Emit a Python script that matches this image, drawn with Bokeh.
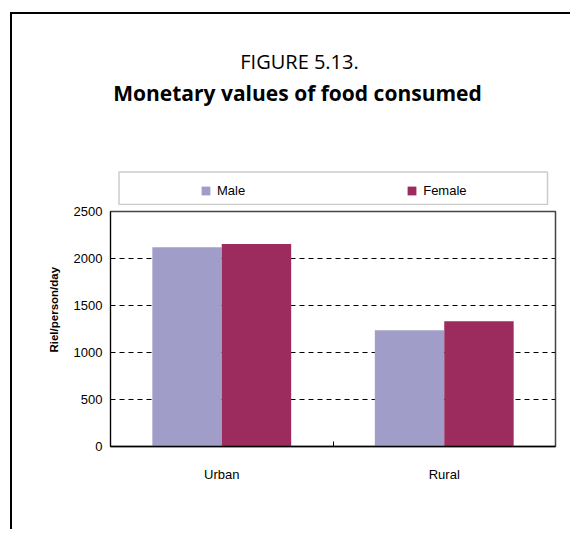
import math
from bokeh.plotting import figure
from bokeh.layouts import column, row
from bokeh.models import (Range1d, FixedTicker, Legend, LegendItem, Label,
                          BoxAnnotation, ColumnDataSource, InlineStyleSheet)
from bokeh.embed import file_html
from bokeh.resources import INLINE

# ---- data ----
categories = ["Urban", "Rural"]
series_names = ["Male", "Female"]
male = [2120, 1238]
female = [2153, 1333]
y_ticks = [0, 500, 1000, 1500, 2000, 2500]
title_line1 = "FIGURE 5.13."
title_line2 = "Monetary values of food consumed"
y_label = "Riel/person/day"

MALE_COLOR = "#A09EC9"
FEMALE_COLOR = "#9B2C5D"
FONT = "Liberation Sans"
TITLE_FONT = "Open Sans"

W, H = 570, 529
HEAD_H = 205
SIDE_W = 70
BODY_H = H - HEAD_H


def frame_css(left, top, draw_top):
    css = (":host { position: relative; }"
           ":host::after { content: ''; position: absolute; left: %dpx; top: %dpx;"
           " right: 0; bottom: 0; border-left: 2px solid #000;%s"
           " pointer-events: none; z-index: 10; }"
           % (left, top, " border-top: 2px solid #000;" if draw_top else ""))
    return [InlineStyleSheet(css=css)]


def blank(width, height, y_range):
    f = figure(width=width, height=height, x_range=Range1d(0, width),
               y_range=y_range, x_axis_type=None, y_axis_type=None,
               output_backend="svg", toolbar_location=None,
               min_border=0, min_border_left=0, min_border_right=0,
               min_border_top=0, min_border_bottom=0)
    f.outline_line_color = None
    f.background_fill_color = "white"
    f.border_fill_color = "white"
    f.grid.visible = False
    return f


# ---------------- header: titles + legend ----------------
head = blank(W, HEAD_H, Range1d(HEAD_H, 0))
head.stylesheets = frame_css(10, 12, True)
head.add_layout(Label(x=299, y=61, text=title_line1, text_align="center",
                      text_baseline="alphabetic", text_font=TITLE_FONT,
                      text_font_size="20px", text_color="black"))
head.add_layout(Label(x=297, y=92, text=title_line2, text_align="center",
                      text_baseline="alphabetic", text_font=TITLE_FONT,
                      text_font_style="bold", text_font_size="21px",
                      text_color="black"))
head.add_layout(BoxAnnotation(left=118.5, right=547, top=171.5, bottom=204,
                              fill_alpha=0, line_color="#555555", line_width=1.5))
# legend proxies (kept outside the visible area)
h_m = head.vbar(x=[-100], top=[-100], width=1, fill_color=MALE_COLOR, line_color=None)
h_f = head.vbar(x=[-100], top=[-100], width=1, fill_color=FEMALE_COLOR, line_color=None)
legend = Legend(items=[LegendItem(label=series_names[0], renderers=[h_m]),
                       LegendItem(label=series_names[1], renderers=[h_f])],
                orientation="horizontal", location=(200, 7),
                padding=0, margin=0, spacing=161,
                glyph_width=11, glyph_height=11, label_standoff=6,
                label_height=11,
                border_line_alpha=0, background_fill_alpha=0,
                label_text_font=FONT, label_text_font_size="13px",
                label_text_color="black")
head.add_layout(legend)

# ---------------- main chart ----------------
n = len(categories)
centers = [i + 0.5 for i in range(n)]
bw = 0.312
y_range = Range1d(0, y_ticks[-1])

p = figure(width=W - SIDE_W, height=BODY_H,
           x_range=Range1d(0, n), y_range=y_range,
           output_backend="svg", toolbar_location=None,
           min_border_left=110 - SIDE_W, min_border_right=15,
           min_border_top=211 - HEAD_H, min_border_bottom=83)
p.background_fill_color = "white"
p.border_fill_color = "white"
p.outline_line_color = "#444444"
p.outline_line_width = 1.5

src_m = ColumnDataSource(dict(x=[c - bw / 2 for c in centers], top=male))
src_f = ColumnDataSource(dict(x=[c + bw / 2 for c in centers], top=female))
p.vbar(x="x", top="top", width=bw, source=src_m,
       fill_color=MALE_COLOR, line_color=None)
p.vbar(x="x", top="top", width=bw, source=src_f,
       fill_color=FEMALE_COLOR, line_color=None)

xa = p.xaxis[0]
xa.ticker = FixedTicker(ticks=centers, minor_ticks=[i for i in range(1, n)])
xa.major_label_overrides = {c: name for c, name in zip(centers, categories)}
xa.major_tick_in = 0
xa.major_tick_out = 0
xa.minor_tick_in = 5
xa.minor_tick_out = 0
xa.minor_tick_line_color = "black"
xa.axis_line_color = "black"
xa.axis_line_width = 1.5
xa.major_label_text_font = FONT
xa.major_label_text_font_size = "13px"
xa.major_label_text_color = "black"
xa.major_label_standoff = 20

ya = p.yaxis[0]
ya.ticker = FixedTicker(ticks=y_ticks)
ya.major_tick_in = 0
ya.major_tick_out = 0
ya.minor_tick_in = 0
ya.minor_tick_out = 0
ya.axis_line_color = "black"
ya.axis_line_width = 1
ya.major_label_text_font = FONT
ya.major_label_text_font_size = "13px"
ya.major_label_text_color = "black"
ya.major_label_standoff = 8

p.xgrid.visible = False
p.ygrid.ticker = FixedTicker(ticks=y_ticks[1:-1])
p.ygrid.grid_line_color = "black"
p.ygrid.grid_line_dash = "5 4"
p.ygrid.grid_line_width = 1

# ---------------- side: y axis title (frame aligned with main chart) ----------------
side = blank(SIDE_W, BODY_H, y_range)
side.min_border_top = 211 - HEAD_H
side.min_border_bottom = 83
side.stylesheets = frame_css(10, 0, False)
side.add_layout(Label(x=53, y=1455, text=y_label, angle=math.pi / 2,
                      text_align="center", text_baseline="middle",
                      text_font=FONT, text_font_style="bold",
                      text_font_size="11.5px", text_color="black"))

layout = column(head, row(side, p, spacing=0), spacing=0)

open("out.html", "w").write(file_html(layout, INLINE))
